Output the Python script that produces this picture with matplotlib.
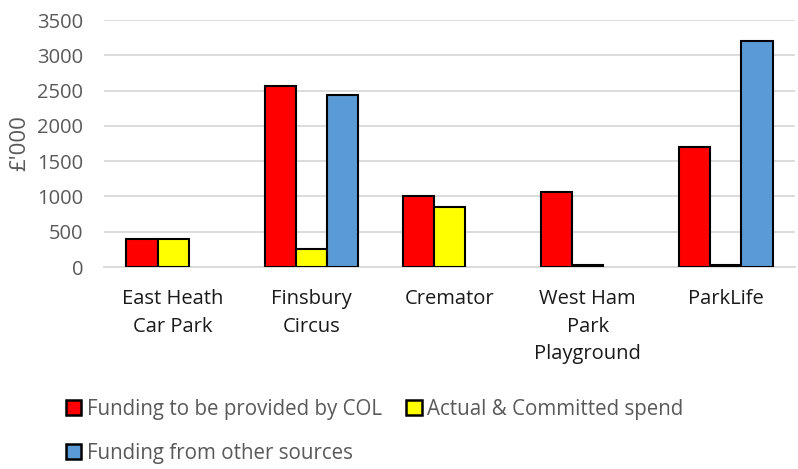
import matplotlib
matplotlib.use("Agg")
import matplotlib.pyplot as plt
import numpy as np
from matplotlib.patches import Patch

categories = ["East Heath\nCar Park", "Finsbury\nCircus", "Cremator", "West Ham\nPark\nPlayground", "ParkLife"]
series_names = ["Funding to be provided by COL", "Actual & Committed spend", "Funding from other sources"]
col_funding = [400, 2560, 1000, 1060, 1700]
actual_spend = [400, 250, 850, 35, 25]
other_sources = [None, 2440, None, None, 3200]
colors = ["#FF0000", "#FFFF00", "#5B9BD5"]
yticks = [0, 500, 1000, 1500, 2000, 2500, 3000, 3500]

plt.rcParams['font.family'] = ['Open Sans', 'DejaVu Sans']
text_color = "#595959"
fs = 14.5

fig = plt.figure(figsize=(7.98, 4.69), dpi=100)
ax = fig.add_axes([104 / 798, 1 - 267 / 469, (795 - 104) / 798, 247 / 469])

x = np.arange(len(categories))
w = 0.225
for i, (vals, c) in enumerate(zip([col_funding, actual_spend, other_sources], colors)):
    v = np.array([np.nan if a is None else a for a in vals], dtype=float)
    ax.bar(x + (i - 1) * w, v, width=w, color=c, edgecolor="black", linewidth=1.5, zorder=3)

ax.set_xlim(-0.5, len(categories) - 0.5)
ax.set_ylim(0, 3500)
ax.set_yticks(yticks)
ax.set_yticklabels([str(t) for t in yticks], fontsize=fs, color=text_color)
ax.set_xticks(x)
ax.set_xticklabels(categories, fontsize=fs, color="#1a1a1a", va="top", linespacing=1.5)
ax.tick_params(axis="both", length=0)
ax.tick_params(axis="x", pad=16)
ax.tick_params(axis="y", pad=15)
ax.grid(axis="y", color="#d9d9d9", linewidth=1.3, zorder=0)
for s in ["top", "right", "left"]:
    ax.spines[s].set_visible(False)
ax.spines["bottom"].set_color("#d9d9d9")
ax.spines["bottom"].set_linewidth(1.3)
ax.set_ylabel("£'000", fontsize=16, color=text_color, labelpad=0)
ax.yaxis.set_label_coords(-0.107, 0.5)

handles = [Patch(facecolor=c, edgecolor="black", linewidth=1.8) for c in colors]
order = [0, 2, 1]
fig.legend([handles[i] for i in order], [series_names[i] for i in order],
           loc="upper left", bbox_to_anchor=(66 / 798, 1 - 399 / 469), ncol=2, frameon=False,
           fontsize=14.8, labelcolor=text_color, handlelength=0.75, handleheight=0.75,
           handletextpad=0.25, columnspacing=1.2, labelspacing=1.1, borderaxespad=0, borderpad=0)

fig.savefig("out.png", dpi=100)
